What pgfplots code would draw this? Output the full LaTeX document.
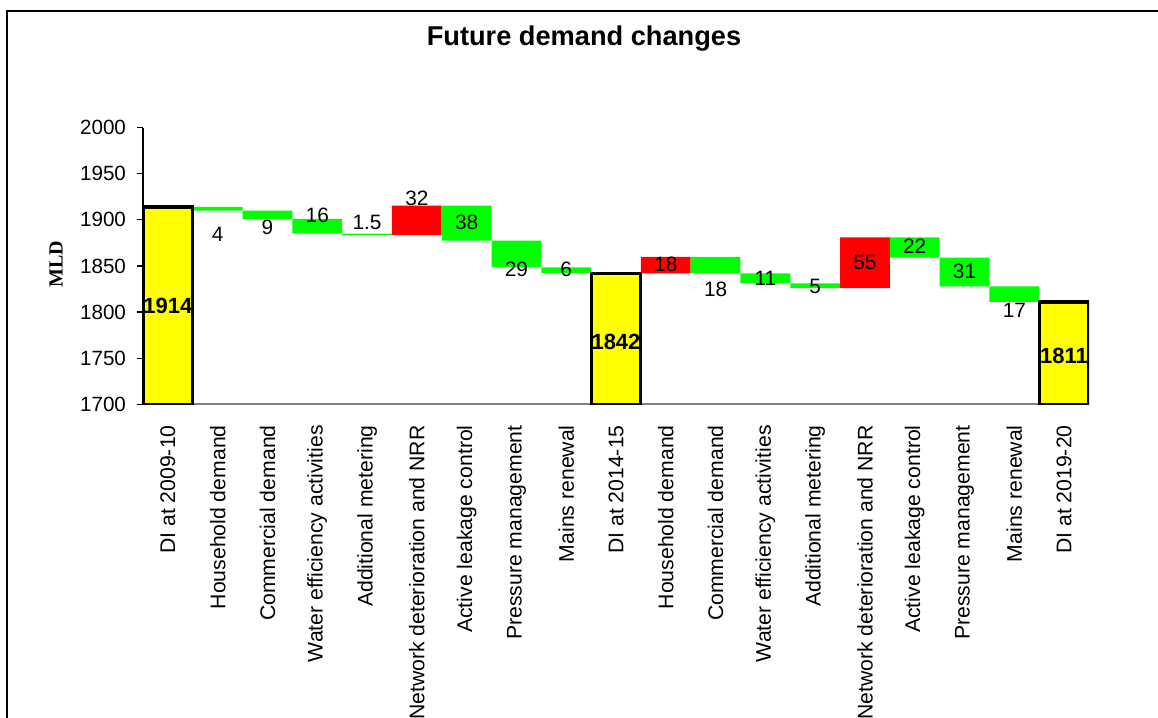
\documentclass[border=0pt]{standalone}
\usepackage{fontspec}
\setmainfont{Liberation Sans}
\newfontfamily\timesfont{Liberation Serif}
\usepackage{pgfplots}
\pgfplotsset{compat=1.18}
\definecolor{xgreen}{RGB}{0,255,0}
\definecolor{xred}{RGB}{255,0,0}
\definecolor{xyellow}{RGB}{255,255,0}
\tikzset{lbl/.style={font=\fontsize{10.4}{12}\selectfont}, blbl/.style={font=\fontsize{11}{12}\selectfont\bfseries}}
\pgfplotsset{frame/.style={at={(71.5pt,156.85pt)}, anchor=south west, scale only axis,
  width=473pt, height=138.3pt, xmin=-0.5, xmax=18.5, ymin=1700, ymax=2000}}
\begin{document}
\begin{tikzpicture}
\path[use as bounding box] (0,0) rectangle (579pt,359pt);
\begin{scope}
\clip (0,0) rectangle (579pt,359pt);
\draw[line width=0.7pt] (3.5pt,353.5pt) rectangle (600pt,-10pt);
\end{scope}
\node[font=\fontsize{13.6}{15}\selectfont\bfseries, anchor=base] at (292pt,336pt) {Future demand changes};
\node[font=\fontsize{10}{12}\selectfont\timesfont\bfseries, rotate=90] at (28pt,226.75pt) {MLD};
\begin{axis}[
  frame,
  ybar stacked, bar width=1,
  ytick={1700,1750,...,2000},
  xtick={0,...,18},
  xticklabels={DI at 2009-10, Household demand, Commercial demand, Water efficiency activities, Additional metering, Network deterioration and NRR, Active leakage control, Pressure management, Mains renewal, DI at 2014-15, Household demand, Commercial demand, Water efficiency activities, Additional metering, Network deterioration and NRR, Active leakage control, Pressure management, Mains renewal, DI at 2019-20},
  axis x line*=bottom, axis y line*=left,
  x axis line style={draw=gray, line width=0.8pt},
  y axis line style={line width=0.6pt},
  tick align=outside, major tick length=3pt,
  ytick style={black, line width=0.6pt},
  xtick style={draw=none},
  /pgf/number format/assume math mode=true,
  /pgf/number format/set thousands separator={},
  yticklabel style={font=\fontsize{10.3}{12}\selectfont, xshift=-2pt},
  xticklabel style={font=\fontsize{10.6}{12}\selectfont, yshift=-4pt, rotate=90, anchor=east},
]
% invisible base
\addplot[draw=none, fill=none] coordinates {
 (0,0) (1,1910) (2,1901) (3,1885) (4,1883.5) (5,1883.5) (6,1877.5) (7,1848.5) (8,1842.5) (9,0)
 (10,1842) (11,1842) (12,1831) (13,1826) (14,1826) (15,1859) (16,1828) (17,1811) (18,0)};
% decreases
\addplot[fill=xgreen, draw=none] coordinates {
 (0,0) (1,4) (2,9) (3,16) (4,1.5) (5,0) (6,38) (7,29) (8,6) (9,0)
 (10,0) (11,18) (12,11) (13,5) (14,0) (15,22) (16,31) (17,17) (18,0)};
% increases
\addplot[fill=xred, draw=none] coordinates {
 (0,0) (1,0) (2,0) (3,0) (4,0) (5,32) (6,0) (7,0) (8,0) (9,0)
 (10,18) (11,0) (12,0) (13,0) (14,55) (15,0) (16,0) (17,0) (18,0)};
\end{axis}
\begin{axis}[frame, hide axis, ybar, bar width=1, bar shift=0pt]
% totals
\addplot[fill=xyellow, draw=black, line width=1.6pt] coordinates {(0,1914) (9,1842) (18,1811)};
\end{axis}
\begin{axis}[frame, hide axis, clip=false]
\node[blbl] at (axis cs:0,1806.6) {1914};
\node[lbl] at (axis cs:1,1884.7) {4};
\node[lbl] at (axis cs:2,1892) {9};
\node[lbl] at (axis cs:3,1905.3) {16};
\node[lbl] at (axis cs:4,1897) {1.5};
\node[lbl] at (axis cs:5,1923.4) {32};
\node[lbl] at (axis cs:6,1897.4) {38};
\node[lbl] at (axis cs:7,1846.4) {29};
\node[lbl] at (axis cs:8,1846.4) {6};
\node[blbl] at (axis cs:9,1768) {1842};
\node[lbl] at (axis cs:10,1851.8) {18};
\node[lbl] at (axis cs:11,1824.7) {18};
\node[lbl] at (axis cs:12,1836.7) {11};
\node[lbl] at (axis cs:13,1828.3) {5};
\node[lbl] at (axis cs:14,1853.6) {55};
\node[lbl] at (axis cs:15,1871) {22};
\node[lbl] at (axis cs:16,1844.6) {31};
\node[lbl] at (axis cs:17,1801.5) {17};
\node[blbl] at (axis cs:18,1752.4) {1811};
\end{axis}
\end{tikzpicture}
\end{document}
